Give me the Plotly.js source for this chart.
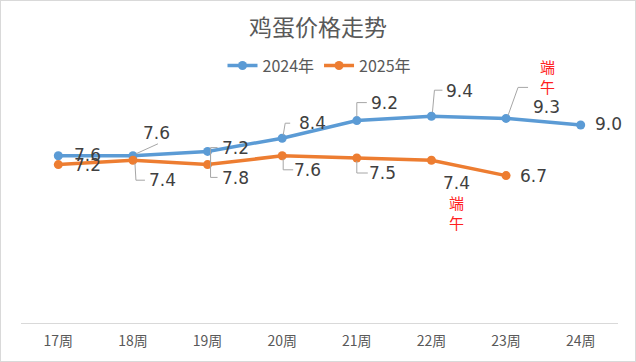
<!DOCTYPE html>
<html><head><meta charset="utf-8">
<script src="https://cdn.plot.ly/plotly-3.0.1.min.js"></script>
<style>
html,body{margin:0;padding:0;background:#fff;}
#chart{width:636px;height:362px;box-sizing:border-box;border:1px solid #d9d9d9;}
</style></head>
<body><div id="chart"></div>
<script>
const categories = ['17周','18周','19周','20周','21周','22周','23周','24周'];
const series2024 = [7.6, 7.6, 7.8, 8.4, 9.2, 9.4, 9.3, 9.0];
const series2025 = [7.2, 7.4, 7.2, 7.6, 7.5, 7.4, 6.7];
const name2024 = '2024年';
const name2025 = '2025年';
const festivalChars = ['端','午'];

const blue = '#5B9BD5', orange = '#ED7D31';
const cjk = '"Noto Sans CJK SC", "Noto Sans", sans-serif';
const numFont = '"DejaVu Sans", sans-serif';
const labelColor = '#404040';
const leaderColor = '#a6a6a6';

// label offsets (px, y up) per point
const off2024 = [[29,1],[24,23],[28,-27],[30,15],[28,18],[28,25],[40,11],[28,1]];
const off2025 = [[29,0],[30,-20],[28,17],[25,-14],[26,-15],[25,-23],[27,0]];
// leader paths (px offsets from point), null = none
const lead2024 = [null,'M3,2 L25,12',"M3,0 L3,-26 L10,-26",'M1,3 L3,15 L8,15','M0,4 L0,18 L10,18','M1,4 L3,26 L11,26','M2,3 L12,31 L22,31',null];
const lead2025 = [null,'M2,-3 L3,-20 L12,-20','M3,0 L3,17 L10,17','M1,-3 L1,-14 L11,-14','M0,-3 L0,-15 L11,-15',null,null];

const traces = [
  {x: categories, y: series2024, name: name2024, type:'scatter', mode:'lines+markers',
   line:{color:blue, width:3.5}, marker:{color:blue, size:9}},
  {x: categories.slice(0, series2025.length), y: series2025, name: name2025, type:'scatter', mode:'lines+markers',
   line:{color:orange, width:3.5}, marker:{color:orange, size:9}}
];

const annotations = [];
const shapes = [];
function addLabels(vals, offs, leads){
  vals.forEach((v,i)=>{
    annotations.push({x: categories[i], y: v, text: v.toFixed(1), showarrow:false,
      xshift: offs[i][0], yshift: offs[i][1], xanchor:'center', yanchor:'middle',
      font:{family:numFont, size:17, color:labelColor}});
    if (leads[i]) shapes.push({type:'path', xref:'x', yref:'y', xsizemode:'pixel', ysizemode:'pixel',
      xanchor: i, yanchor: v, path: leads[i], line:{color:leaderColor, width:1}});
  });
}
addLabels(series2024, off2024, lead2024);
addLabels(series2025, off2025, lead2025);
function addFestival(cat, val, xs, ys){
  festivalChars.forEach((ch, k)=>{
    annotations.push({x: cat, y: val, text: ch, showarrow:false, xshift: xs, yshift: ys - k*20,
      xanchor:'center', yanchor:'middle', font:{family:cjk, size:15, color:'#FF2020'}});
  });
}
addFestival(categories[6], series2024[6], 41, 52);
addFestival(categories[5], series2025[5], 25, -42);

const layout = {
  width: 634, height: 360,
  margin: {l:20, r:17, t:58, b:38, pad:0},
  paper_bgcolor:'#fff', plot_bgcolor:'#fff',
  title: {text:'鸡蛋价格走势', font:{family:cjk, size:23, color:'#595959'}, x:0.5, xanchor:'center', y:0.925, yanchor:'middle'},
  showlegend: true,
  legend: {orientation:'h', x:0.5, xanchor:'center', y:0.975, yanchor:'middle',
    font:{family:cjk, size:16, color:'#595959'}, bgcolor:'rgba(0,0,0,0)', itemwidth:30},
  xaxis: {type:'category', range:[-0.5, 7.5], showline:true, linecolor:'#d9d9d9', linewidth:1,
    showgrid:false, zeroline:false, ticks:'', ticklabelstandoff:5,
    tickfont:{family:cjk, size:14, color:'#595959'}, fixedrange:true},
  yaxis: {range:[0,12], showgrid:false, zeroline:false, showticklabels:false, showline:false, ticks:'', fixedrange:true},
  annotations: annotations,
  shapes: shapes
};
Plotly.newPlot('chart', traces, layout, {displayModeBar:false, staticPlot:true});
</script></body></html>
